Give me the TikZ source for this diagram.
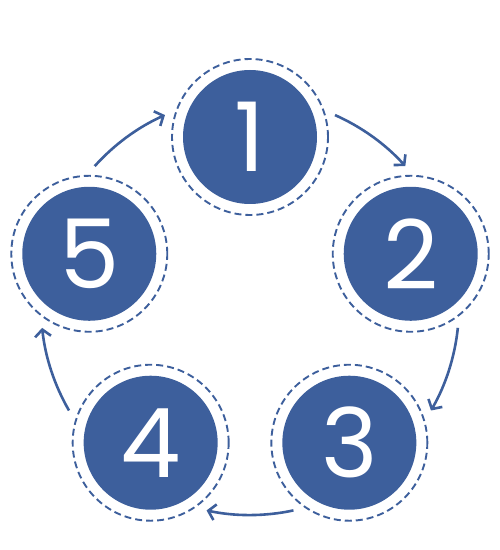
\documentclass[tikz,border=0pt]{standalone}
\usepackage{fontspec}
\setmainfont{Poppins}
\usetikzlibrary{arrows.meta}
\definecolor{cycleblue}{RGB}{61,95,156}
\tikzset{
  stage/.style={circle, fill=cycleblue, minimum size=134pt, inner sep=0pt,
    text=white, font=\fontsize{96}{96}\selectfont},
  ring/.style={draw=cycleblue, line width=1.9pt, dash pattern=on 7pt off 4pt},
  flow/.style={draw=cycleblue, line width=2.6pt, -{Straight Barb[length=7pt,width=16pt]}}
}
\begin{document}
\begin{tikzpicture}[x=1pt,y=1pt]
\useasboundingbox (0,0) rectangle (500,550);
\coordinate (o) at (250,244);
% the five stages
\node[stage] (s1) at ([shift={(90:169)}]o) {1};
\node[stage] (s2) at ([shift={(18:169)}]o) {2};
\node[stage] (s3) at ([shift={(-54:169)}]o) {3};
\node[stage] (s4) at ([shift={(-126:169)}]o) {4};
\node[stage] (s5) at ([shift={(162:169)}]o) {5};
\draw[ring] (s1) circle[radius=78];
\draw[ring] (s2) circle[radius=78];
\draw[ring] (s3) circle[radius=78];
\draw[ring] (s4) circle[radius=78];
\draw[ring] (s5) circle[radius=78];
% arrows round the cycle
\draw[flow] ([shift={(66:209)}]o) arc[start angle=66, end angle=42, radius=209];
\draw[flow] ([shift={(-6:209)}]o) arc[start angle=-6, end angle=-30, radius=209];
\draw[flow] ([shift={(-78:209)}]o) arc[start angle=-78, end angle=-102, radius=209];
\draw[flow] ([shift={(-150:209)}]o) arc[start angle=-150, end angle=-174, radius=209];
\draw[flow] ([shift={(138:209)}]o) arc[start angle=138, end angle=114, radius=209];
\end{tikzpicture}
\end{document}
